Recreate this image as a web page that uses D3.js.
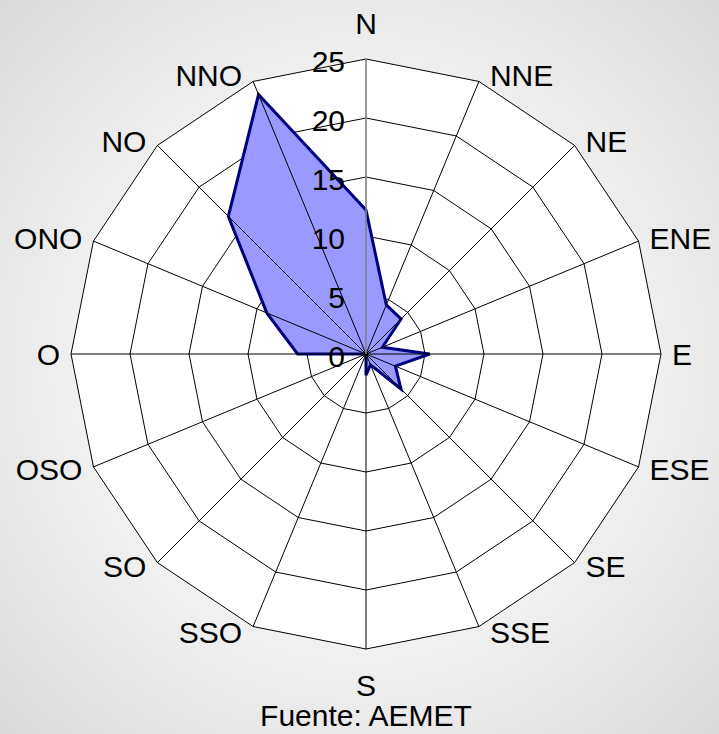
<!DOCTYPE html>
<html>
<head>
<meta charset="utf-8">
<script src="https://cdn.jsdelivr.net/npm/d3@7"></script>
<style>
  html, body { margin: 0; padding: 0; background: #e4e4e4; }
  svg { display: block; font-family: "Liberation Sans", Arial, sans-serif; }
</style>
</head>
<body>
<svg id="chart" width="719" height="734"></svg>
<script>
// Rosa de vientos
var directions = ["N", "NNE", "NE", "ENE", "E", "ESE", "SE", "SSE",
                  "S", "SSO", "SO", "OSO", "O", "ONO", "NO", "NNO"];
var frequencies = [12.2, 4.5, 4.2, 1.5, 5.4, 2.7, 4.2, 1.0,
                   1.8, 0, 0, 0, 5.8, 9.1, 16.5, 23.8];
var ticks = [0, 5, 10, 15, 20, 25];
var source = "Fuente: AEMET";

var svg = d3.select("#chart"),
    width = +svg.attr("width"),
    height = +svg.attr("height");

var cx = 366, cy = 354, radius = 295;
var fontSize = 30;

var defs = svg.append("defs");
var grad = defs.append("radialGradient")
    .attr("id", "bg")
    .attr("cx", "50%").attr("cy", "50%").attr("r", "72%");
grad.append("stop").attr("offset", "0%").attr("stop-color", "#ffffff");
grad.append("stop").attr("offset", "55%").attr("stop-color", "#f0f0f0");
grad.append("stop").attr("offset", "100%").attr("stop-color", "#d9d9d9");

svg.append("rect")
    .attr("width", width)
    .attr("height", height)
    .attr("fill", "url(#bg)");

var r = d3.scaleLinear().domain([0, 25]).range([0, radius]);
var angle = d3.scalePoint().domain(directions).range([0, 2 * Math.PI * (15 / 16)]);

function pt(dir, v) {
  var a = angle(dir);
  return [cx + r(v) * Math.sin(a), cy - r(v) * Math.cos(a)];
}

var g = svg.append("g");

// rings (under the series)
var rings = ticks.slice(1);
g.selectAll(".ring")
  .data(rings.slice().reverse())
  .enter().append("polygon")
    .attr("class", "ring")
    .attr("points", function(t) {
      return directions.map(function(d) { return pt(d, t).join(","); }).join(" ");
    })
    .attr("fill", function(t, i) { return i === 0 ? "#ffffff" : "none"; })
    .attr("stroke", "#000")
    .attr("stroke-width", 1);

// series
g.append("polygon")
    .datum(frequencies)
    .attr("points", function(vals) {
      return directions.map(function(d, i) { return pt(d, vals[i]).join(","); }).join(" ");
    })
    .attr("fill", "#9999ff")
    .attr("stroke", "#000080")
    .attr("stroke-width", 3)
    .attr("stroke-linejoin", "miter");

// spokes
g.selectAll(".spoke")
  .data(directions.filter(function(d) { return d !== "N"; }))
  .enter().append("line")
    .attr("class", "spoke")
    .attr("x1", cx).attr("y1", cy)
    .attr("x2", function(d) { return pt(d, 25)[0]; })
    .attr("y2", function(d) { return pt(d, 25)[1]; })
    .attr("stroke", "#000")
    .attr("stroke-width", 1);

// value axis
g.append("line")
    .attr("x1", cx).attr("y1", cy)
    .attr("x2", cx).attr("y2", cy - r(25))
    .attr("stroke", "#808080")
    .attr("stroke-width", 1.6);

g.selectAll(".tick")
  .data(ticks)
  .enter().append("text")
    .attr("class", "tick")
    .attr("x", cx - 21)
    .attr("y", function(t) { return cy - r(t) + 2; })
    .attr("text-anchor", "end")
    .attr("dominant-baseline", "central")
    .attr("font-size", fontSize)
    .attr("fill", "#000")
    .text(function(t) { return t; });

// direction labels
g.selectAll(".dir")
  .data(directions)
  .enter().append("text")
    .attr("class", "dir")
    .attr("x", function(d) {
      var s = Math.sin(angle(d));
      return pt(d, 25)[0] + (Math.abs(s) < 0.01 ? 0 : (s > 0 ? 11 : -11));
    })
    .attr("y", function(d) {
      var c = Math.cos(angle(d)), s = Math.sin(angle(d));
      var p = pt(d, 25)[1];
      if (Math.abs(s) < 0.01) return p - c * 36;
      return p - c * 6;
    })
    .attr("text-anchor", function(d) {
      var s = Math.sin(angle(d));
      return Math.abs(s) < 0.01 ? "middle" : (s > 0 ? "start" : "end");
    })
    .attr("dominant-baseline", "central")
    .attr("font-size", fontSize)
    .attr("fill", "#000")
    .text(function(d) { return d; });

svg.append("text")
    .attr("x", cx)
    .attr("y", 715)
    .attr("text-anchor", "middle")
    .attr("dominant-baseline", "central")
    .attr("font-size", fontSize)
    .attr("fill", "#000")
    .text(source);
</script>
</body>
</html>
